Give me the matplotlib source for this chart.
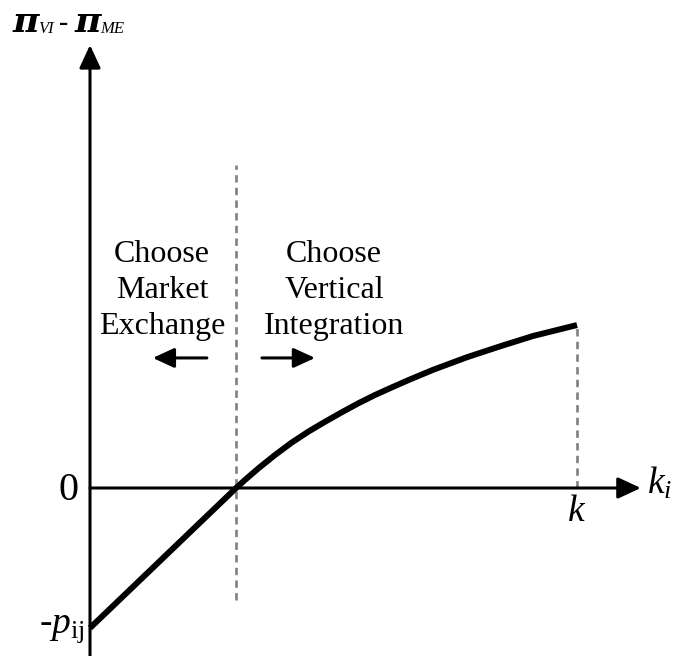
import numpy as np
import matplotlib
matplotlib.use('Agg')
import matplotlib.pyplot as plt

# Serif look like the original (Times-like)
plt.rcParams['font.family'] = ['Liberation Serif', 'DejaVu Serif']
plt.rcParams['mathtext.fontset'] = 'custom'
plt.rcParams['mathtext.rm'] = 'Liberation Serif'
plt.rcParams['mathtext.it'] = 'Liberation Serif:italic'
plt.rcParams['mathtext.bf'] = 'Liberation Serif:bold'

# Curve (k = 1, -p_ij = -1)
k_vals = [0.0, 0.15, 0.30, 0.318, 0.346, 0.380, 0.414, 0.448, 0.483, 0.517,
          0.551, 0.585, 0.620, 0.654, 0.705, 0.774, 0.842, 0.910, 1.0]
diff_vals = [-1.0, -0.50, 0.0, 0.057, 0.141, 0.236, 0.324, 0.402, 0.474, 0.541,
             0.605, 0.664, 0.719, 0.771, 0.845, 0.934, 1.012, 1.086, 1.164]

k_star = 0.30
k_max = 1.0

left_text = 'Choose\nMarket\nExchange'
right_text = 'Choose\nVertical\nIntegration'

fig = plt.figure(figsize=(6.75, 6.56), dpi=100)
ax = fig.add_axes([0, 0, 1, 1])
ax.set_xlim(-0.1848, 1.2012)
ax.set_ylim(-1.2, 3.4857)
ax.axis('off')

# axes with arrow heads
axis_arrow = dict(arrowstyle='-|>,head_length=1.4,head_width=0.65', lw=2.2,
                  color='black', shrinkA=0, shrinkB=0, mutation_scale=10)
ax.annotate('', xy=(0, 3.164), xytext=(0, -1.2), arrowprops=axis_arrow)
ax.annotate('', xy=(1.131, 0), xytext=(0, 0), arrowprops=axis_arrow)

# dashed guides
l1, = ax.plot([k_star, k_star], [-0.8, 2.307], color='#808080', lw=1.9)
l1.set_dashes((2.8, 2.0))
l2, = ax.plot([k_max, k_max], [0, diff_vals[-1]], color='#808080', lw=1.9)
l2.set_dashes((2.8, 2.0))

# the curve
ax.plot(k_vals, diff_vals, color='black', lw=4.3, solid_capstyle='butt',
        solid_joinstyle='round')

# region labels
ax.text(0.148, 1.41, left_text, ha='center', va='center', fontsize=23, linespacing=1.33)
ax.text(0.501, 1.41, right_text, ha='center', va='center', fontsize=23, linespacing=1.33)

small_arrow = dict(arrowstyle='-|>,head_length=1.3,head_width=0.6', lw=2.2,
                   color='black', shrinkA=0, shrinkB=0, mutation_scale=10)
ax.annotate('', xy=(0.129, 0.929), xytext=(0.240, 0.929), arrowprops=small_arrow)
ax.annotate('', xy=(0.462, 0.929), xytext=(0.353, 0.929), arrowprops=small_arrow)

# axis labels
ax.text(-0.045, -0.02, '0', ha='center', va='center', fontsize=29)
ax.text(-0.012, -1.0, r'-$p_{\mathrm{ij}}$', ha='right', va='center', fontsize=27)
ax.text(k_max, -0.05, r'$k$', ha='center', va='top', fontsize=27)
ax.text(1.144, 0.036, r'$k_i$', ha='left', va='center', fontsize=27)

# y label built from pieces: big heavy pi, small italic subscripts,
# each piece placed right after the previous one
W, H = 675.0, 656.0
renderer = fig.canvas.get_renderer()
pieces = [
    ('\u03c0', 32, 0, dict(fontsize=26, style='italic', weight='bold', family='DejaVu Serif')),
    ('VI', 33, 0, dict(fontsize=12, style='italic')),
    ('-', 30, 6, dict(fontsize=20, weight='bold')),
    ('\u03c0', 32, 7, dict(fontsize=26, style='italic', weight='bold', family='DejaVu Serif')),
    ('ME', 33, 0, dict(fontsize=12, style='italic')),
]
x = 13.0
for s, base, gap, kw in pieces:
    x += gap
    t = fig.text(x / W, 1 - base / H, s, ha='left', va='baseline', **kw)
    x = t.get_window_extent(renderer).x1 - 1

fig.savefig('out.png', dpi=100)
